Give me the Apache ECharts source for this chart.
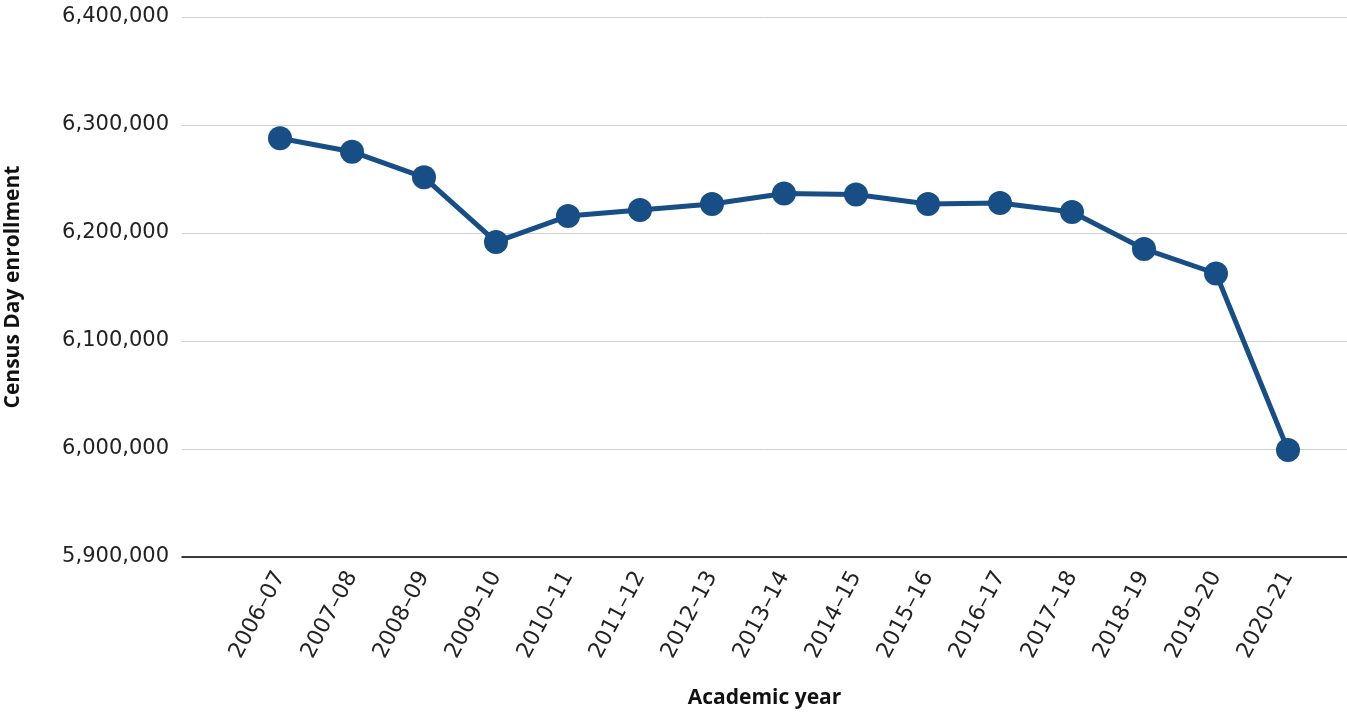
<!DOCTYPE html>
<html>
<head>
<meta charset="utf-8">
<script src="https://cdn.jsdelivr.net/npm/echarts@6/dist/echarts.min.js"></script>
<style>html,body{margin:0;padding:0;background:#fff}#c{width:1347px;height:715px}</style>
</head>
<body>
<div id="c"></div>
<script>
var categories = ['2006–07','2007–08','2008–09','2009–10','2010–11','2011–12','2012–13','2013–14','2014–15','2015–16','2016–17','2017–18','2018–19','2019–20','2020–21'];
var enrollment = [6287700,6275300,6251600,6191700,6215700,6221300,6226900,6236600,6235600,6226900,6227800,6219400,6185200,6162500,5999100];
var yTicks = [5900000,6000000,6100000,6200000,6300000,6400000];

var TICKFONT = '"DejaVu Sans", sans-serif';
var TITLEFONT = '"Open Sans", sans-serif';
var chart = echarts.init(document.getElementById('c'));
chart.setOption({
  animation: false,
  grid: [
    {left: 182, right: 0, top: 17, bottom: 158, outerBoundsMode: 'none', containLabel: false},
    {left: 244, right: 23, top: 17, bottom: 158, outerBoundsMode: 'none', containLabel: false}
  ],
  xAxis: [
    {gridIndex: 0, type: 'category', data: categories, boundaryGap: true,
     axisLine: {show: true, lineStyle: {color: '#000', width: 1.5}},
     axisTick: {show: false}, axisLabel: {show: false}, splitLine: {show: false},
     name: 'Academic year', nameLocation: 'middle', nameGap: 131,
     nameTextStyle: {fontFamily: TITLEFONT, fontSize: 21, fontWeight: 'bold', color: '#111'}},
    {gridIndex: 1, type: 'category', data: categories, boundaryGap: true,
     axisLine: {show: false}, axisTick: {show: false}, splitLine: {show: false},
     axisLabel: {rotate: 62, fontFamily: TICKFONT, fontSize: 22, color: '#222', margin: 16}}
  ],
  yAxis: [
    {gridIndex: 0, type: 'value', min: yTicks[0], max: yTicks[yTicks.length-1], interval: 100000,
     axisLine: {show: false}, axisTick: {show: false},
     splitLine: {show: true, lineStyle: {color: '#d0d0d0', width: 1}},
     axisLabel: {fontFamily: TICKFONT, fontSize: 21, color: '#222', margin: 13,
       formatter: function(v){ return v.toLocaleString('en-US'); }},
     name: 'Census Day enrollment', nameLocation: 'middle', nameGap: 158,
     nameTextStyle: {fontFamily: TITLEFONT, fontSize: 21, fontWeight: 'bold', color: '#111'}},
    {gridIndex: 1, type: 'value', min: yTicks[0], max: yTicks[yTicks.length-1], interval: 100000,
     show: false}
  ],
  series: [{
    type: 'line', xAxisIndex: 1, yAxisIndex: 1, data: enrollment,
    symbol: 'circle', symbolSize: 24,
    lineStyle: {color: '#164e85', width: 5},
    itemStyle: {color: '#164e85'}
  }]
});
</script>
</body>
</html>
